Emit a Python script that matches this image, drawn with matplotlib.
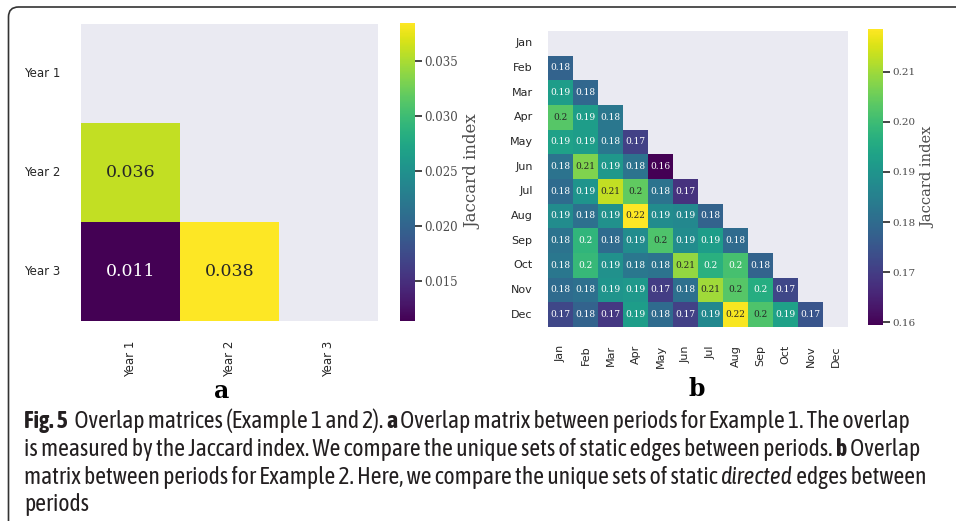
import matplotlib
matplotlib.use("Agg")
import matplotlib.pyplot as plt
import matplotlib.patheffects as pe
import seaborn as sns
import numpy as np
from matplotlib import font_manager
from matplotlib.patches import FancyBboxPatch
from matplotlib.transforms import IdentityTransform

# --- данные: панель a (годы) ---
years = ["Year 1", "Year 2", "Year 3"]
year_rows = [
    [],
    [0.0359],
    [0.0114, 0.0384],
]

# --- данные: панель b (месяцы), нижний треугольник ---
months = ["Jan", "Feb", "Mar", "Apr", "May", "Jun",
          "Jul", "Aug", "Sep", "Oct", "Nov", "Dec"]
month_rows = [
    [],
    [0.178],
    [0.192, 0.179],
    [0.203, 0.192, 0.183],
    [0.193, 0.192, 0.183, 0.171],
    [0.182, 0.207, 0.191, 0.182, 0.1595],
    [0.180, 0.190, 0.213, 0.204, 0.182, 0.168],
    [0.188, 0.181, 0.189, 0.2185, 0.188, 0.187, 0.178],
    [0.182, 0.198, 0.180, 0.188, 0.202, 0.188, 0.192, 0.180],
    [0.183, 0.199, 0.189, 0.183, 0.182, 0.209, 0.197, 0.201, 0.178],
    [0.180, 0.181, 0.190, 0.191, 0.170, 0.181, 0.210, 0.203, 0.196, 0.172],
    [0.172, 0.178, 0.169, 0.192, 0.180, 0.171, 0.187, 0.218, 0.202, 0.193, 0.175],
]

caption_lines = [
    [("Fig. 5", "bold", "normal"), ("  Overlap matrices (Example 1 and 2). ", "normal", "normal"),
     ("a", "bold", "normal"), (" Overlap matrix between periods for Example 1. The overlap", "normal", "normal")],
    [("is measured by the Jaccard index. We compare the unique sets of static edges between periods. ", "normal", "normal"),
     ("b", "bold", "normal"), (" Overlap", "normal", "normal")],
    [("matrix between periods for Example 2. Here, we compare the unique sets of static ", "normal", "normal"),
     ("directed", "normal", "italic"), (" edges between", "normal", "normal")],
    [("periods", "normal", "normal")],
]


def to_matrix(rows):
    n = len(rows)
    m = np.zeros((n, n))
    for i, r in enumerate(rows):
        m[i, :len(r)] = r
    return m


sns.set_theme(style="dark")
plt.rcParams["font.family"] = ["DejaVu Sans"]


def weight_num(w):
    if isinstance(w, (int, float)):
        return w
    return font_manager.weight_dict.get(str(w), 400)


# узкий шрифт для подписи, если есть (лучше с жирным начертанием)
narrow = {}
for f in font_manager.fontManager.ttflist:
    if "Narrow" in f.name or "Condensed" in f.name:
        narrow.setdefault(f.name, []).append(weight_num(f.weight))
cap_font, has_bold = "Open Sans", True
if narrow:
    with_bold = [n for n, ws in narrow.items() if max(ws) >= 600]
    if with_bold:
        cap_font = with_bold[0]
    else:
        cap_font = sorted(narrow)[0]
        has_bold = False

fig = plt.figure(figsize=(9.56, 5.21), dpi=100)
fig.patch.set_facecolor("white")

W, H = 956.0, 521.0


def px_axes(x0, y0, x1, y1):
    # координаты в пикселях от верхнего левого угла
    return fig.add_axes([x0 / W, (H - y1) / H, (x1 - x0) / W, (y1 - y0) / H])


serif = "DejaVu Serif"

# --- панель a ---
A = to_matrix(year_rows)
mask_a = np.triu(np.ones_like(A, dtype=bool))
ax_a = px_axes(81, 24, 378, 321)
cax_a = px_axes(400, 23, 415, 321)
sns.heatmap(A, mask=mask_a, cmap="viridis", annot=True, fmt=".2g",
            ax=ax_a, cbar_ax=cax_a, xticklabels=years, yticklabels=years,
            annot_kws={"fontfamily": serif, "fontsize": 12.5})
ax_a.set_yticklabels(years, rotation=0, fontsize=8.5)
ax_a.set_xticklabels(years, rotation=90, fontsize=8.5)
ax_a.tick_params(axis="y", pad=9)
ax_a.tick_params(axis="x", pad=8)
cax_a.set_yticks([0.015, 0.020, 0.025, 0.030, 0.035])
cax_a.set_yticklabels(["0.015", "0.020", "0.025", "0.030", "0.035"])

# --- панель b ---
B = to_matrix(month_rows)
mask_b = np.triu(np.ones_like(B, dtype=bool))
ax_b = px_axes(548, 31, 848, 327)
cax_b = px_axes(868, 29, 883, 325)
sns.heatmap(B, mask=mask_b, cmap="viridis", annot=True, fmt=".2g",
            ax=ax_b, cbar_ax=cax_b, xticklabels=months, yticklabels=months,
            annot_kws={"fontfamily": serif, "fontsize": 6.5})
ax_b.set_yticklabels(months, rotation=0, fontsize=8)
ax_b.set_xticklabels(months, rotation=90, fontsize=8)
ax_b.tick_params(axis="y", pad=5)
ax_b.tick_params(axis="x", pad=7)
cax_b.set_yticks([0.16, 0.17, 0.18, 0.19, 0.20, 0.21])
cax_b.set_yticklabels(["0.16", "0.17", "0.18", "0.19", "0.20", "0.21"])

for cax, fs, ls in [(cax_a, 8.5, 12), (cax_b, 7.5, 10.5)]:
    cax.tick_params(axis="y", length=5, width=1.2, color="0.15", pad=2)
    for t in cax.get_yticklabels():
        t.set_fontfamily(serif)
        t.set_fontsize(fs)
        t.set_color("0.3")
    cax.set_ylabel("Jaccard index", fontfamily=serif, fontsize=ls, color="0.3", labelpad=4)

# --- буквы панелей ---
fig.text(222 / W, (H - 391) / H, "a", fontfamily=serif, fontweight="bold",
         fontsize=17, ha="center", va="center", color="black")
fig.text(697 / W, (H - 389) / H, "b", fontfamily=serif, fontweight="bold",
         fontsize=17, ha="center", va="center", color="black")

# --- рамка ---
frame = FancyBboxPatch((8.5, -60), 1100, H - 7 + 60,
                       boxstyle="round,pad=0,rounding_size=10",
                       transform=IdentityTransform(), fill=False,
                       edgecolor="#333333", linewidth=1.2)
fig.patches.append(frame)

# --- подпись ---
renderer = fig.canvas.get_renderer()
cap_color = "#231f20"


def seg_width(txt, weight, style, size):
    t = fig.text(0, 0, "|" + txt + "|", fontfamily=cap_font, fontweight=weight,
                 fontstyle=style, fontsize=size, transform=IdentityTransform())
    t0 = fig.text(0, 0, "||", fontfamily=cap_font, fontweight=weight,
                  fontstyle=style, fontsize=size, transform=IdentityTransform())
    w = t.get_window_extent(renderer).width - t0.get_window_extent(renderer).width
    t.remove()
    t0.remove()
    return w


base = 10.0
widest = max(sum(seg_width(s, wt, st, base) for s, wt, st in line)
             for line in caption_lines)
cap_size = base * 902.0 / widest

baselines = [428, 456, 484, 511]
for line, yb in zip(caption_lines, baselines):
    x = 24.0
    for s, wt, st in line:
        t = fig.text(x, H - yb, s, fontfamily=cap_font, fontweight=wt, fontstyle=st,
                     fontsize=cap_size, color=cap_color, va="baseline",
                     transform=IdentityTransform())
        if wt == "bold" and not has_bold:
            # жирного начертания нет — утолщаем обводкой
            t.set_path_effects([pe.withStroke(linewidth=1.1, foreground=cap_color)])
        x += seg_width(s, wt, st, cap_size) + (1 if wt == "bold" and not has_bold else 0)

fig.savefig("out.png", dpi=100, facecolor="white")
